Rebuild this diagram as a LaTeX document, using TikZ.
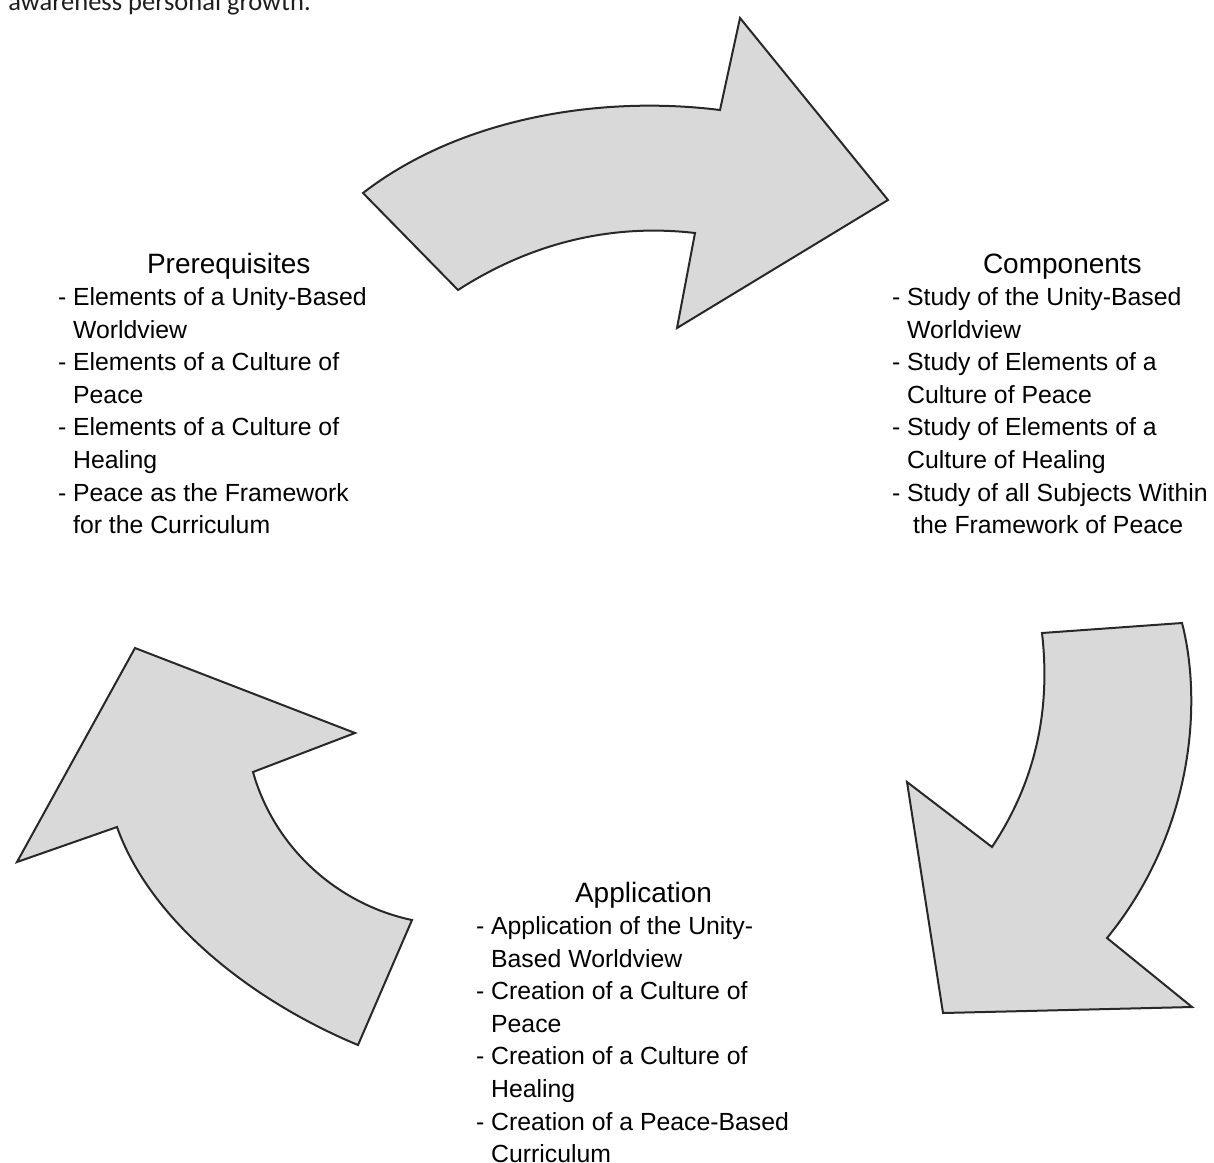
\documentclass[tikz,border=0pt]{standalone}
\usepackage{fontspec}
\setmainfont{Liberation Sans}
\newfontfamily\calibfont{Carlito}
\definecolor{arrowfill}{RGB}{217,217,217}
\definecolor{arrowline}{RGB}{40,40,40}
\definecolor{toptext}{RGB}{30,30,30}
\begin{document}
\begin{tikzpicture}[x=0.5pt,y=-0.5pt,
  arrowshape/.style={fill=arrowfill, draw=arrowline, line width=1pt, line join=miter},
  bodyline/.style={anchor=base west, inner sep=0pt, outer sep=0pt, font=\fontsize{12.4}{15}\selectfont},
  titleline/.style={anchor=base west, inner sep=0pt, outer sep=0pt, font=\fontsize{14}{16}\selectfont}]
\clip (0,0) rectangle (1214,1162);
\fill[white] (0,0) rectangle (1214,1162);

% header fragment
\node[anchor=base west, inner sep=0pt, font=\calibfont\fontsize{13.25}{15}\selectfont, text=toptext] (header) at (8,10) {awareness personal growth.};

% top arrow
\draw[arrowshape] (363,193) .. controls (460,118) and (600,95) .. (720,110)
  -- (740,18) -- (888,200) -- (677,328) -- (695,233)
  .. controls (600,222) and (520,250) .. (458,290) -- cycle;

% right arrow
\draw[arrowshape] (1042,633) -- (1182,623)
  .. controls (1202,700) and (1195,830) .. (1107,938)
  -- (1192,1007) -- (943,1013) -- (907,782) -- (992,847)
  .. controls (1030,790) and (1052,720) .. (1042,633) -- cycle;

% left arrow
\draw[arrowshape] (135,648) -- (355,733) -- (253,772)
  .. controls (275,850) and (340,905) .. (412,920)
  -- (358,1045)
  .. controls (250,1000) and (150,920) .. (117,827)
  -- (17,862) -- cycle;

% Prerequisites
\node[titleline] (pretitle) at (147,273) {Prerequisites};
\node[bodyline] (pre1) at (58,305.5) {- Elements of a Unity-Based};
\node[bodyline] (pre2) at (58,338) {\phantom{- }Worldview};
\node[bodyline] (pre3) at (58,370.6) {- Elements of a Culture of};
\node[bodyline] (pre4) at (58,403.2) {\phantom{- }Peace};
\node[bodyline] (pre5) at (58,435.8) {- Elements of a Culture of};
\node[bodyline] (pre6) at (58,468.4) {\phantom{- }Healing};
\node[bodyline] (pre7) at (58,501) {- Peace as the Framework};
\node[bodyline] (pre8) at (58,533.6) {\phantom{- }for the Curriculum};

% Components
\node[titleline] (comtitle) at (983,273) {Components};
\node[bodyline] (com1) at (892,305.5) {- Study of the Unity-Based};
\node[bodyline] (com2) at (892,338) {\phantom{- }Worldview};
\node[bodyline] (com3) at (892,370.6) {- Study of Elements of a};
\node[bodyline] (com4) at (892,403.2) {\phantom{- }Culture of Peace};
\node[bodyline] (com5) at (892,435.8) {- Study of Elements of a};
\node[bodyline] (com6) at (892,468.4) {\phantom{- }Culture of Healing};
\node[bodyline] (com7) at (892,501) {- Study of all Subjects Within};
\node[bodyline] (com8) at (892,533.6) {\phantom{- }\hspace{3pt}the Framework of Peace};

% Application
\node[titleline] (apptitle) at (575,902) {Application};
\node[bodyline] (app1) at (476,934.5) {- Application of the Unity-};
\node[bodyline] (app2) at (476,967) {\phantom{- }Based Worldview};
\node[bodyline] (app3) at (476,999.6) {- Creation of a Culture of};
\node[bodyline] (app4) at (476,1032.2) {\phantom{- }Peace};
\node[bodyline] (app5) at (476,1064.8) {- Creation of a Culture of};
\node[bodyline] (app6) at (476,1097.4) {\phantom{- }Healing};
\node[bodyline] (app7) at (476,1130) {- Creation of a Peace-Based};
\node[bodyline] (app8) at (476,1162.6) {\phantom{- }Curriculum};
\end{tikzpicture}
\end{document}
